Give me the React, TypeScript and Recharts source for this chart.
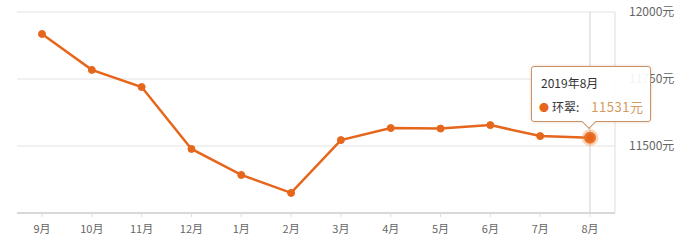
import { LineChart, Line, XAxis, YAxis, CartesianGrid, Tooltip } from 'recharts';

const months = ['9月', '10月', '11月', '12月', '1月', '2月', '3月', '4月', '5月', '6月', '7月', '8月'];
const years = ['2018', '2018', '2018', '2018', '2019', '2019', '2019', '2019', '2019', '2019', '2019', '2019'];
const prices = [11918, 11784, 11720, 11489, 11392, 11325, 11522, 11567, 11565, 11578, 11537, 11531];
const yTicks = [11500, 11750, 12000];
const seriesName = '环翠';

const data = months.map((m, i) => ({ month: m, year: years[i], price: prices[i] }));

const ORANGE = '#e6661c';

function TipBox({ active, payload }: any) {
  if (!active || !payload || !payload.length) return null;
  const p = payload[0].payload;
  return (
    <div style={{ position: 'relative', width: 118, height: 54, border: '1px solid #c9936a', borderRadius: 3, background: 'rgba(255,255,255,0.92)', boxShadow: '0 0 3px rgba(200,140,100,0.4)', fontFamily: '"Noto Sans CJK SC", sans-serif', boxSizing: 'content-box' }}>
      <div style={{ position: 'absolute', left: 9, top: 7, fontSize: 12, color: '#333' }}>{p.year}年{p.month}</div>
      <div style={{ position: 'absolute', left: 7, top: 30, fontSize: 12, color: '#333', whiteSpace: 'nowrap' }}>
        <span style={{ color: ORANGE, fontSize: 10, marginRight: 3 }}>●</span>
        {seriesName}:
        <span style={{ color: '#d29b5e', fontSize: 13, marginLeft: 12, letterSpacing: 0.5 }}>{p.price}元</span>
      </div>
      <div style={{ position: 'absolute', left: 52, bottom: -6, width: 9, height: 9, background: 'white', borderRight: '1px solid #c9936a', borderBottom: '1px solid #c9936a', transform: 'rotate(45deg)' }} />
    </div>
  );
}

export default function App() {
  return (
    <div style={{ position: 'absolute', left: 0, top: 0, width: 684, height: 246, background: '#fff' }}>
      <LineChart width={684} height={246} data={data} margin={{ top: 12, right: 9, left: 17, bottom: 3 }}>
        <CartesianGrid horizontal={true} vertical={false} stroke="#e3e3e3" />
        <XAxis dataKey="month" height={30} padding={{ left: 25, right: 25 }} tickLine={{ stroke: '#ddd' }} tickSize={4} tickMargin={8} axisLine={{ stroke: '#d8d8d8', strokeWidth: 2 }}
          tick={{ fontSize: 11, fill: '#666', fontFamily: '"Noto Sans CJK SC", sans-serif' }} interval={0} />
        <YAxis orientation="right" width={60} domain={[11250, 12000]} ticks={yTicks} tickLine={false} axisLine={{ stroke: '#ddd' }}
          tickFormatter={(v: number) => `${v}元`} tick={{ fontSize: 12, fill: '#666', textAnchor: 'start', fontFamily: '"Noto Sans CJK SC", sans-serif' }} tickMargin={8} />
        <Tooltip defaultIndex={11} active={true} content={<TipBox />} position={{ x: 531, y: 66 }} cursor={{ stroke: '#cfcfcf', strokeWidth: 1 }} isAnimationActive={false} wrapperStyle={{ outline: 'none' }} />
        <Line type="linear" dataKey="price" stroke={ORANGE} strokeWidth={2.5} dot={{ r: 3.5, fill: ORANGE, stroke: ORANGE, strokeWidth: 1 }}
          activeDot={{ r: 6, fill: ORANGE, stroke: 'rgba(240,140,70,0.35)', strokeWidth: 5 }} isAnimationActive={false} />
      </LineChart>
    </div>
  );
}
